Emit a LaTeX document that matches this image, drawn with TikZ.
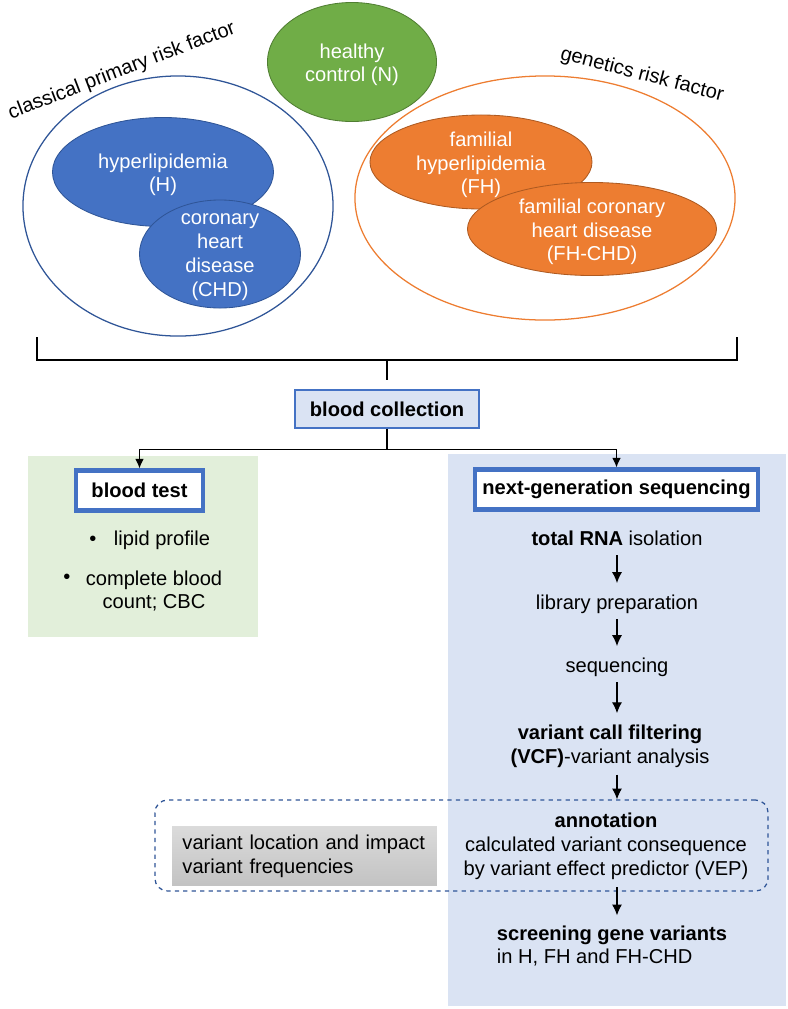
\documentclass[tikz,border=0pt]{standalone}
\usepackage{fontspec}
\setmainfont{Liberation Sans}
\usetikzlibrary{arrows.meta,positioning,shapes.geometric}

\definecolor{offblue}{HTML}{4472C4}
\definecolor{darkblue}{HTML}{2F5597}
\definecolor{offgreen}{HTML}{70AD47}
\definecolor{darkgreen}{HTML}{507E32}
\definecolor{offorange}{HTML}{ED7D31}
\definecolor{darkorange}{HTML}{AE5A21}
\definecolor{paleblue}{HTML}{DAE3F3}
\definecolor{palegreen}{HTML}{E2EFDA}

\begin{document}
\begin{tikzpicture}[
    x=0.025cm, y=-0.025cm,
    every node/.style={font=\fontsize{14.3}{17}\selectfont},
    group/.style={ellipse, draw, line width=0.9pt, minimum width=#1},
    blob/.style={ellipse, draw, line width=0.6pt, text=white},
    inside/.style={text=white, align=center, yshift=-2pt},
    txt/.style={inner sep=0pt, align=center, text height=10.5pt, text depth=3pt},
    lines/.style={inner sep=0pt, align=center},
    headbox/.style={draw=offblue, line width=3pt, fill=white, minimum height=1.0cm, font=\fontsize{14.3}{17}\selectfont\bfseries},
    flow/.style={-{Latex[length=2.7mm, width=2.5mm]}, line width=0.8pt, shorten <=4pt, shorten >=8pt},
    split/.style={-{Latex[length=2.4mm, width=2.2mm]}, line width=0.8pt},
    bracket/.style={line width=1.6pt}
]
\useasboundingbox (0,0) rectangle (788,1009);

% panels behind the two branches
\fill[palegreen] (28,456) rectangle (258,637);
\fill[paleblue] (448,454) rectangle (786,1006);

% risk groups
\node[group=7.75cm, draw=darkblue, minimum height=6.5cm] (classic) at (178,206) {};
\node[group=9.5cm, draw=offorange, minimum height=6.1cm] (genetic) at (545,198) {};
\node[rotate=21] (classlab) at (122,71) {classical primary risk factor};
\node[rotate=-14.5] (genlab) at (642,75) {genetics risk factor};

\node[blob, fill=offgreen, draw=darkgreen, minimum width=4.225cm, minimum height=2.975cm,
  label={[inside]center:healthy\\control (N)}] (ctrl) at (352,62) {};
\node[blob, fill=offblue, draw=darkblue, minimum width=5.525cm, minimum height=2.725cm,
  label={[inside]center:hyperlipidemia\\(H)}] (hyper) at (163,172) {};
\node[blob, fill=offblue, draw=darkblue, minimum width=4.025cm, minimum height=2.7cm,
  label={[inside]center:coronary\\heart\\disease\\(CHD)}] (chd) at (220,254) {};
\node[blob, fill=offorange, draw=darkorange, minimum width=5.55cm, minimum height=2.35cm,
  label={[inside]center:familial\\hyperlipidemia\\(FH)}] (fh) at (481,162) {};
\node[blob, fill=offorange, draw=darkorange, minimum width=6.225cm, minimum height=2.325cm,
  label={[inside]center:familial coronary\\heart disease\\(FH-CHD)}] (fhchd) at (592,229) {};

% bracket joining all groups
\coordinate (bl) at (37,337);
\coordinate (br) at (737,337);
\coordinate (bmid) at (387,360);
\draw[bracket] (bl) |- (bmid) -| (br);

\node[draw=offblue, fill=paleblue, line width=0.8pt, minimum width=4.6cm, minimum height=0.95cm,
  font=\fontsize{14.3}{17}\selectfont\bfseries] (collect) at (387,409) {blood collection};
\draw[bracket] (bmid) -- ([yshift=7pt]collect.north);

% two branches
\node[headbox, minimum width=3.175cm] (btest) at (139.5,490.5) {blood test};
\node[headbox, minimum width=7.075cm] (ngs) at (616.5,489.5) {next-generation sequencing};
\draw[split] (collect.south) -- ++(0,21) coordinate (fork) -| (btest.north);
\draw[split] (fork) -| (ngs.north);

% blood test items
\node[txt] (lipiddot) at (93,540) {•};
\node[txt] (lipid) at (162,540) {lipid profile};
\node[txt] (cbcdot) at (67,578) {•};
\node[lines] (cbc) at (154,591) {complete blood\\count; CBC};

% sequencing pipeline
\node[txt] (rna) at (617,540) {\textbf{total RNA} isolation};
\node[txt] (lib) at (617,604) {library preparation};
\node[txt] (seq) at (617,667) {sequencing};
\node[lines] (vcf) at (610,746) {\textbf{variant call filtering}\\\textbf{(VCF)}-variant analysis};
\draw[flow] (rna) -- (lib);
\draw[flow] (lib) -- (seq);
\draw[flow] (seq) -- (seq |- vcf.north);

\node[draw=darkblue, dashed, line width=0.9pt, rounded corners=9pt,
  minimum width=15.325cm, minimum height=2.275cm] (annobox) at (461.5,845.5) {};
\node[lines] (annot) at (606,846) {\textbf{annotation}\\calculated variant consequence\\by variant effect predictor (VEP)};
\node[top color=gray!28, bottom color=gray!48, draw=white, line width=0.8pt,
  minimum width=6.675cm, minimum height=1.55cm, text width=6.1cm, align=left] (impact) at (304.5,856)
  {variant location and impact\\variant frequencies};
\node[lines, align=left] (screen) at (612,946) {\textbf{screening gene variants}\\in H, FH and FH-CHD};

\coordinate (col) at (617,0);
\draw[flow, shorten <=5pt, shorten >=0pt] (vcf.south -| col) -- (annobox.north -| col);
\draw[flow, shorten <=-3pt, shorten >=7pt] (annobox.south -| col) -- (screen.north -| col);
\end{tikzpicture}
\end{document}
